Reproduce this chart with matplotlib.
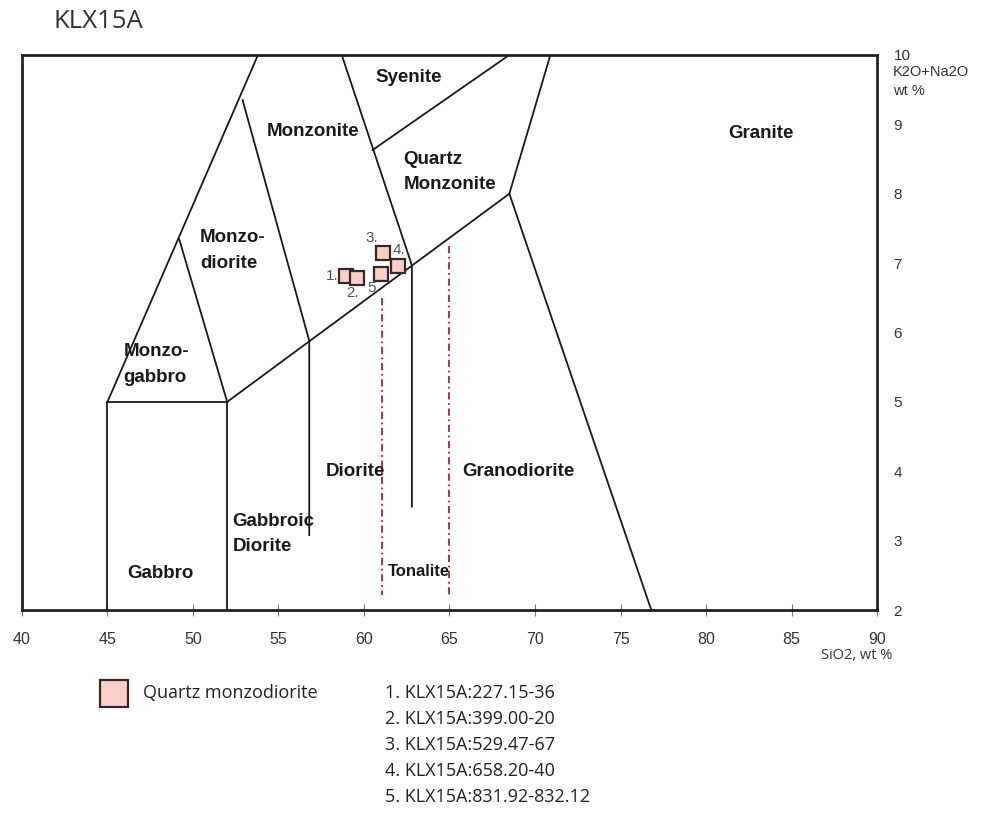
import matplotlib
matplotlib.use('Agg')
from matplotlib import pyplot as plt

# TAS (plutonic) field boundaries, SiO2 vs K2O+Na2O
boundaries = [
    [(45, 2), (45, 5), (52, 5), (52, 2)],
    [(45, 5), (53.8, 10)],
    [(49.2, 7.34), (52, 5)],
    [(52.9, 9.35), (56.8, 5.88), (56.8, 3.08)],
    [(52, 5), (68.5, 8)],
    [(58.7, 10), (62.8, 6.97), (62.8, 3.49)],
    [(60.5, 8.63), (68.5, 10)],
    [(70.9, 10), (68.5, 8), (76.8, 2)],
]
tonalite_x = [61.05, 65.0]
tonalite_top = [6.5, 7.25]
tonalite_bottom = [2.22, 2.22]

# samples
sio2 = [58.95, 59.6, 61.1, 62.0, 61.0]
alk = [6.81, 6.79, 7.15, 6.96, 6.84]
sample_nums = ['1.', '2.', '3.', '4.', '5.']
sample_ids = ['KLX15A:227.15-36', 'KLX15A:399.00-20', 'KLX15A:529.47-67',
              'KLX15A:658.20-40', 'KLX15A:831.92-832.12']

fields = [
    ('Syenite', 62.6, 9.68, 'center'),
    ('Monzonite', 57.0, 8.89, 'center'),
    ('Quartz', 62.3, 8.5, 'left'),
    ('Monzonite', 62.3, 8.14, 'left'),
    ('Granite', 83.2, 8.87, 'center'),
    ('Monzo-', 50.4, 7.37, 'left'),
    ('diorite', 50.4, 7.0, 'left'),
    ('Monzo-', 45.95, 5.72, 'left'),
    ('gabbro', 45.95, 5.35, 'left'),
    ('Diorite', 59.5, 4.0, 'center'),
    ('Granodiorite', 69.0, 4.0, 'center'),
    ('Gabbroic', 52.3, 3.28, 'left'),
    ('Diorite', 52.3, 2.91, 'left'),
    ('Gabbro', 48.1, 2.53, 'center'),
]

fig = plt.figure(figsize=(10.03, 8.23), dpi=100)
ax = fig.add_axes([0.0219, 0.2588, 0.8525, 0.6744])

for seg in boundaries:
    xs = [p[0] for p in seg]
    ys = [p[1] for p in seg]
    ax.plot(xs, ys, color='#1a1a1a', linewidth=1.3, solid_joinstyle='miter')

for x, y0, y1 in zip(tonalite_x, tonalite_top, tonalite_bottom):
    ax.plot([x, x], [y0, y1], color='#a3282c', linewidth=1.3, linestyle='-.',
            dashes=(4, 2, 1, 2))

for name, x, y, ha in fields:
    ax.text(x, y, name, ha=ha, va='center', fontsize=13.5, fontweight='bold',
            family='Liberation Sans', color='#1a1a1a')
ax.text(63.2, 2.56, 'Tonalite', ha='center', va='center', fontsize=12,
        fontweight='bold', family='Liberation Sans', color='#1a1a1a')

ax.plot(sio2, alk, linestyle='none', marker='s', markersize=10.5,
        markerfacecolor='#f9cfca', markeredgecolor='#3a2626', markeredgewidth=1.6,
        zorder=3)

# sample numbers next to the squares
num_offsets = [(-1.15, 0.0), (-0.65, -0.22), (-1.0, 0.21), (-0.35, 0.23), (-0.8, -0.2)]
for n, x, y, (dx, dy) in zip(sample_nums, sio2, alk, num_offsets):
    ax.text(x + dx, y + dy, n, ha='left', va='center', fontsize=11,
            family='Liberation Sans', color='#555555', zorder=4)

ax.set_xlim(40, 90)
ax.set_ylim(2, 10)
ax.set_xticks(range(40, 91, 5))
ax.set_yticks(range(2, 11))
ax.yaxis.tick_right()
ax.tick_params(axis='x', direction='inout', length=8, width=0.8, color='#777777',
               pad=12, labelsize=11.5, labelcolor='#333333')
ax.tick_params(axis='y', length=0, pad=12, labelsize=11, labelcolor='#333333')
for lab in ax.get_xticklabels() + ax.get_yticklabels():
    lab.set_family('Liberation Sans')
for s in ax.spines.values():
    s.set_linewidth(2.0)
    s.set_color('#222222')

fig.text(0.053, 0.9735, 'KLX15A', fontsize=18.5, family='Open Sans',
         color='#333333', va='center', ha='left')
fig.text(0.8903, 0.912, 'K2O+Na2O', fontsize=10.5, family='Liberation Sans',
         color='#333333', va='center')
fig.text(0.8903, 0.890, 'wt %', fontsize=10.5, family='Liberation Sans',
         color='#333333', va='center')
fig.text(0.8185, 0.204, 'SiO2, wt %', fontsize=10.5, family='Open Sans',
         color='#333333', va='center')

# legend
fig.patches.append(plt.Rectangle((0.0997, 0.1408), 0.028, 0.0328,
                                 transform=fig.transFigure, facecolor='#f9cfca',
                                 edgecolor='#3a2626', linewidth=1.6))
fig.text(0.1426, 0.1575, 'Quartz monzodiorite', fontsize=13, family='Open Sans',
         color='#222222', va='center')
for i, (n, sid) in enumerate(zip(sample_nums, sample_ids)):
    fig.text(0.3838, 0.1575 - i * 0.0316, n + ' ' + sid, fontsize=13,
             family='Open Sans', color='#222222', va='center')

fig.savefig('out.png', dpi=100)
